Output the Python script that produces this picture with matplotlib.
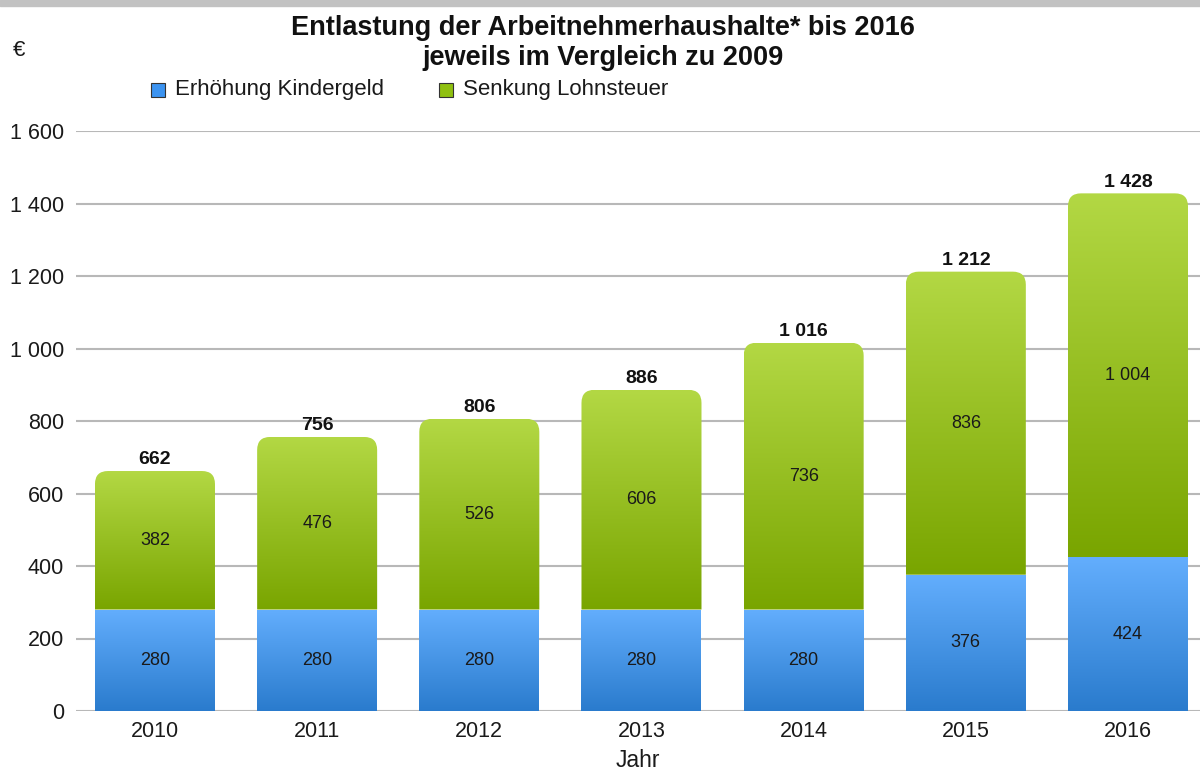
import numpy as np
import matplotlib
matplotlib.use("Agg")
import matplotlib.pyplot as plt
from matplotlib.path import Path
from matplotlib.patches import PathPatch, Rectangle
from matplotlib.colors import to_rgb

plt.rcParams['font.family'] = ['Liberation Sans', 'DejaVu Sans']

years = ["2010", "2011", "2012", "2013", "2014", "2015", "2016"]
kindergeld = [280, 280, 280, 280, 280, 376, 424]
lohnsteuer = [382, 476, 526, 606, 736, 836, 1004]
yticks = [0, 200, 400, 600, 800, 1000, 1200, 1400, 1600]

title = "Entlastung der Arbeitnehmerhaushalte* bis 2016\njeweils im Vergleich zu 2009"
series_names = ["Erhöhung Kindergeld", "Senkung Lohnsteuer"]

blue_top, blue_bot = "#63aefd", "#2a7bcd"
green_top, green_bot = "#b3d844", "#79a500"


def fmt(v):
    return f"{v:,}".replace(",", " ")


W, H = 1200, 771
fig = plt.figure(figsize=(W / 100, H / 100), dpi=100)
fig.patches.append(Rectangle((0, 1 - 6 / H), 1, 6 / H, transform=fig.transFigure,
                             color="#c2c2c2", zorder=0))

ax_left, ax_right = 76 / W, 1.0
ax_bottom, ax_top = 1 - 711 / H, 1 - 131 / H
ax = fig.add_axes([ax_left, ax_bottom, ax_right - ax_left, ax_top - ax_bottom])

xlo, xhi = -0.487, 6.444
ylo, yhi = 0, 1600
bw = 0.74
px_per_x = (W * (ax_right - ax_left)) / (xhi - xlo)
px_per_y = (H * (ax_top - ax_bottom)) / (yhi - ylo)
rx = 13 / px_per_x
ry = 13 / px_per_y


def grad(top, bot, n=256):
    t = np.linspace(0, 1, n)[:, None]
    a = np.array(to_rgb(top))[None, :]
    b = np.array(to_rgb(bot))[None, :]
    img = a * (1 - t) + b * t
    return img[:, None, :]


def seg_path(x, b, t, rounded):
    l, r = x - bw / 2, x + bw / 2
    if not rounded:
        verts = [(l, b), (r, b), (r, t), (l, t), (l, b)]
        codes = [Path.MOVETO, Path.LINETO, Path.LINETO, Path.LINETO, Path.CLOSEPOLY]
    else:
        verts = [(l, b), (r, b), (r, t - ry), (r, t), (r - rx, t), (l + rx, t),
                 (l, t), (l, t - ry), (l, b)]
        codes = [Path.MOVETO, Path.LINETO, Path.LINETO, Path.CURVE3, Path.CURVE3,
                 Path.LINETO, Path.CURVE3, Path.CURVE3, Path.CLOSEPOLY]
    return Path(verts, codes)


def draw_seg(x, b, t, top, bot, rounded):
    patch = PathPatch(seg_path(x, b, t, rounded), facecolor="none", edgecolor="none")
    ax.add_patch(patch)
    im = ax.imshow(grad(top, bot), extent=(x - bw / 2, x + bw / 2, b, t),
                   aspect="auto", origin="upper", zorder=2, interpolation="bilinear")
    im.set_clip_path(patch)


xs = np.arange(len(years))
for i, x in enumerate(xs):
    k = kindergeld[i]
    l = lohnsteuer[i]
    draw_seg(x, 0, k, blue_top, blue_bot, False)
    draw_seg(x, k, k + l, green_top, green_bot, True)
    ax.text(x, k / 2, fmt(k), ha="center", va="center", fontsize=13, color="#1a1a1a", zorder=3)
    ax.text(x, k + l / 2, fmt(l), ha="center", va="center", fontsize=13, color="#1a1a1a", zorder=3)
    ax.annotate(fmt(k + l), (x, k + l), xytext=(0, 2), textcoords="offset points",
                ha="center", va="bottom", fontsize=14, fontweight="bold", color="#111111",
                zorder=3, annotation_clip=False)

ax.set_xlim(xlo, xhi)
ax.set_ylim(ylo, yhi)
ax.set_yticks(yticks)
ax.set_yticklabels([fmt(v) for v in yticks])
ax.set_xticks(xs)
ax.set_xticklabels(years)
ax.tick_params(axis="both", length=0, labelsize=15.5, colors="#1a1a1a")
ax.tick_params(axis="y", pad=8.5)
ax.tick_params(axis="x", pad=7)
ax.grid(axis="y", color="#b8b8b8", linewidth=1.5, zorder=0)
ax.set_axisbelow(True)
for s in ax.spines.values():
    s.set_visible(False)
ax.set_xlabel("Jahr", fontsize=16.5, color="#1a1a1a", labelpad=5)

fig.text(603 / W, 1 - 43 / H, title, ha="center", va="center", fontsize=19.5,
         fontweight="bold", color="#111111", linespacing=1.2)
fig.text(13 / W, 1 - 50 / H, "€", ha="left", va="center", fontsize=16, color="#1a1a1a")

# legend
leg_y = 1 - 90 / H
for xpx, txt_x, name, col in [(151, 175, series_names[0], "#3b93f0"),
                              (439, 463, series_names[1], "#8fc010")]:
    fig.patches.append(Rectangle((xpx / W, leg_y - 7 / H), 14 / W, 14 / H,
                                 transform=fig.transFigure, facecolor=col,
                                 edgecolor="#333333", linewidth=0.8))
    fig.text(txt_x / W, leg_y, name, ha="left", va="center", fontsize=16, color="#1a1a1a")

fig.savefig("out.png", dpi=100)
